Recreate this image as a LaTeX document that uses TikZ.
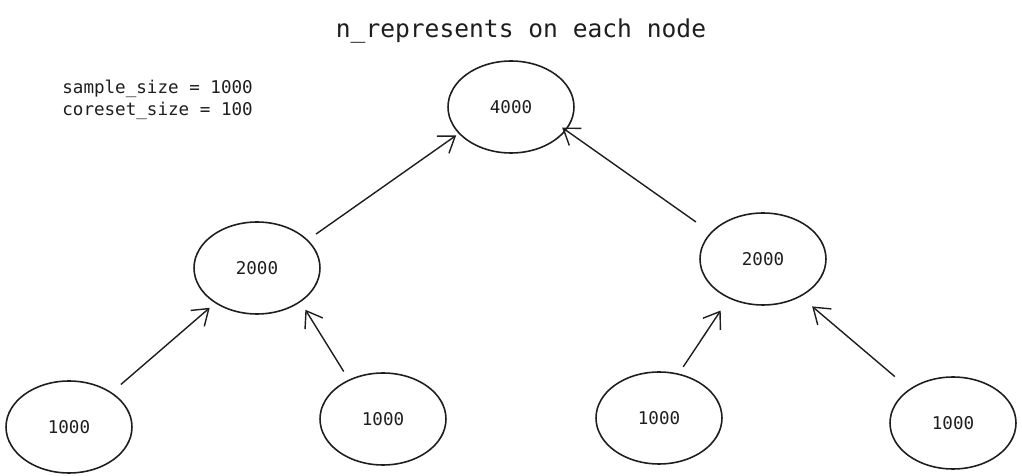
\documentclass[tikz,border=0pt]{standalone}
\usepackage{fontspec}
\setmonofont{DejaVu Sans Mono}
\usepackage{tikz}
\usetikzlibrary{arrows.meta}
\usetikzlibrary{shapes.geometric}
\definecolor{ink}{HTML}{1E1E1E}
\newcommand{\us}{\char"005F\relax}
\tikzset{
    blob/.style={
           ellipse,
           draw=ink, line width=0.9pt,
           minimum width=2.52cm,
           minimum height=1.84cm,
           inner sep=0pt,
           font=\ttfamily\fontsize{10}{12}\selectfont,
           text=ink,
           },
}
\tikzset{
    up/.style={
           draw=ink, line width=0.8pt,
           -{Straight Barb[length=0.3cm,width=0.42cm,line width=0.8pt]},
           },
}
\begin{document}
\begin{tikzpicture}[x=0.02cm,y=-0.02cm]
\useasboundingbox (0,0) rectangle (1022,476);
\node[font=\ttfamily\fontsize{14}{16}\selectfont,text=ink](title) at (521,31){n\us represents on each node};
\node[font=\ttfamily\fontsize{10}{12.5}\selectfont,text=ink,align=left,anchor=west,inner sep=0pt](info) at (62,100){sample\us size = 1000\\coreset\us size = 100};
\node[blob](top) at (511,107){4000};
\node[blob](m1) at (257,268){2000};
\node[blob](m2) at (763,259){2000};
\node[blob](b1) at (69,427){1000};
\node[blob](b2) at (383,419){1000};
\node[blob](b3) at (659,418){1000};
\node[blob](b4) at (953,423){1000};
\draw[up,shorten <=0.24cm,shorten >=0.14cm] (b1.39) -- (m1.220);
\draw[up,shorten <=0.19cm,shorten >=0.18cm] (b2.131) -- (m1.-38);
\draw[up,shorten <=0.16cm,shorten >=0.29cm] (b3.66) -- (m2.229);
\draw[up,shorten <=0.38cm,shorten >=0.30cm] (b4.142) -- (m2.-45);
\draw[up,shorten <=0.20cm,shorten >=0.06cm] (m1.29) -- (top.207);
\draw[up,shorten <=0.36cm,shorten >=-0.10cm] (m2.153) -- (top.-23);
\end{tikzpicture}
\end{document}
